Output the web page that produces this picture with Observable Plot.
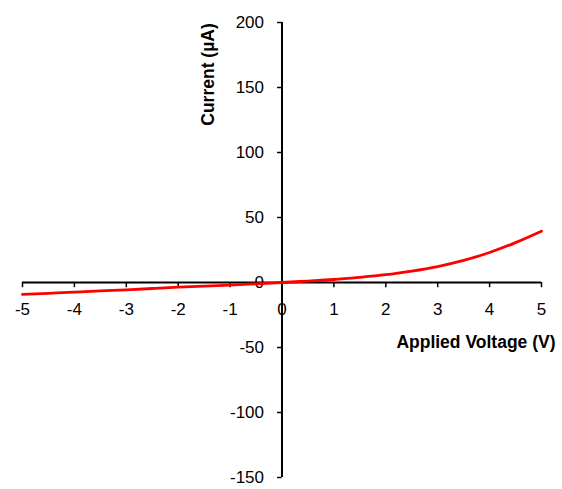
<!DOCTYPE html>
<html>
<head>
<meta charset="utf-8">
<script src="https://cdn.jsdelivr.net/npm/d3@7"></script>
<script src="https://cdn.jsdelivr.net/npm/@observablehq/plot@0.6"></script>
<style>
  html, body { margin: 0; padding: 0; background: #fff; }
  svg { display: block; }
</style>
</head>
<body>
<div id="chart"></div>
<script>
const voltage = [-5, -4.5, -4, -3.5, -3, -2.5, -2, -1.5, -1, -0.5, 0, 0.5, 1, 1.5, 2, 2.5, 3, 3.5, 4, 4.5, 5];
const current = [-9.2, -8.3, -7.4, -6.5, -5.6, -4.6, -3.6, -2.8, -2.0, -1.0, 0, 1.1, 2.3, 4.0, 6.0, 8.8, 12.3, 17.0, 23.1, 30.7, 39.5];
const xTicks = [-5, -4, -3, -2, -1, 0, 1, 2, 3, 4, 5];
const yTicks = [-150, -100, -50, 0, 50, 100, 150, 200];
const xTitle = "Applied Voltage (V)";
const yTitle = "Current (µA)";

const data = voltage.map((v, i) => ({v, c: current[i]}));
const font = "Liberation Sans, Arial, sans-serif";

const chart = Plot.plot({
  width: 562,
  height: 489,
  marginTop: 22,
  marginBottom: 12,
  marginLeft: 22,
  marginRight: 21,
  style: {fontFamily: font, background: "#fff"},
  x: {domain: [-5, 5], axis: null},
  y: {domain: [-150, 200], axis: null},
  marks: [
    // x axis line and ticks
    Plot.ruleY([0], {x1: -5, x2: 5, stroke: "#000", strokeWidth: 2}),
    Plot.ruleX(xTicks, {x: d => d, y1: 0, y2: -4, stroke: "#000", strokeWidth: 1.5}),
    // y axis line and ticks
    Plot.ruleX([0], {y1: -150, y2: 200, stroke: "#000", strokeWidth: 2}),
    Plot.ruleY(yTicks, {y: d => d, x1: 0, x2: -0.085, stroke: "#000", strokeWidth: 1.5}),
    // tick labels
    Plot.text(xTicks, {x: d => d, y: 0, text: d => String(d), dy: 27, fontSize: 17, fill: "#000"}),
    Plot.text(yTicks, {x: 0, y: d => d, text: d => String(d), dx: -18, textAnchor: "end", fontSize: 17, fill: "#000"}),
    // the curve
    Plot.line(data, {x: "v", y: "c", stroke: "#ff0000", strokeWidth: 2.8, curve: "natural"}),
    // axis titles
    Plot.text([xTitle], {x: 5, y: 0, dx: 14, dy: 60, textAnchor: "end", text: d => d, fontSize: 17.5, fontWeight: "bold", fill: "#000"}),
    Plot.text([yTitle], {x: 0, y: 200, dx: -74, dy: 52, rotate: -90, text: d => d, fontSize: 17.5, fontWeight: "bold", fill: "#000"})
  ]
});
document.getElementById("chart").appendChild(chart);
</script>
</body>
</html>
